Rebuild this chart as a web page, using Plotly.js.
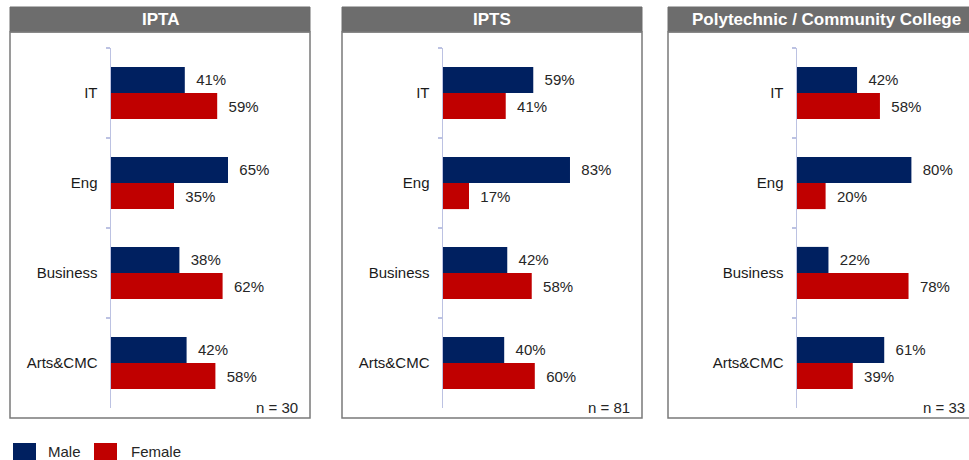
<!DOCTYPE html>
<html>
<head>
<meta charset="utf-8">
<script src="https://cdn.plot.ly/plotly-3.0.1.min.js"></script>
<style>html,body{margin:0;padding:0;background:#fff;}#chart{width:969px;height:460px;}</style>
</head>
<body>
<div id="chart"></div>
<script>
// ---- data ----
var panelTitles = ['IPTA', 'IPTS', 'Polytechnic / Community College'];
var categories = ['IT', 'Eng', 'Business', 'Arts&CMC'];
var maleIPTA = [41, 65, 38, 42];
var femaleIPTA = [59, 35, 62, 58];
var maleIPTS = [59, 83, 42, 40];
var femaleIPTS = [41, 17, 58, 60];
var malePoly = [42, 80, 22, 61];
var femalePoly = [58, 20, 78, 39];
var sampleSizes = [30, 81, 33];
var seriesNames = ['Male', 'Female'];

// ---- styling / geometry ----
var W = 969, H = 460;
var maleColor = '#002060', femaleColor = '#C00000';
var boxLeft = [10, 342, 668], boxRight = [310, 642, 985];
var nRight = [300, 632, 967];
var axisX = [111, 443, 797], axisEnd = [291, 596, 940];
var headerTop = 7, headerBottom = 32, boxBottom = 418;
var plotTop = 48, plotBottom = 408;
function px(x) { return x / W; }
function py(y) { return 1 - y / H; }

var maleSets = [maleIPTA, maleIPTS, malePoly];
var femaleSets = [femaleIPTA, femaleIPTS, femalePoly];
var FONT = 'Liberation Sans, Arial, sans-serif';

var traces = [];
var layout = {
  width: W, height: H,
  margin: {l: 0, r: 0, t: 0, b: 0},
  paper_bgcolor: '#ffffff', plot_bgcolor: 'rgba(0,0,0,0)',
  barmode: 'group', bargap: 0.42, bargroupgap: 0,
  showlegend: false,
  font: {family: FONT, size: 15, color: '#1a1a1a'},
  shapes: [], annotations: []
};

for (var i = 0; i < 3; i++) {
  var suf = i === 0 ? '' : String(i + 1);
  var sets = [maleSets[i], femaleSets[i]];
  var cols = [maleColor, femaleColor];
  for (var s = 0; s < 2; s++) {
    traces.push({
      type: 'bar', orientation: 'h',
      x: sets[s], y: categories,
      name: seriesNames[s],
      xaxis: 'x' + suf, yaxis: 'y' + suf,
      marker: {color: cols[s], line: {width: 0}},
      texttemplate: '\u00a0\u00a0%{x}%',
      textposition: 'outside',
      constraintext: 'none',
      cliponaxis: false,
      textfont: {family: FONT, size: 15, color: '#262626'},
      hoverinfo: 'skip'
    });
  }
  layout['xaxis' + suf] = {
    domain: [px(axisX[i]), px(axisEnd[i])],
    range: [0, 100], anchor: 'y' + suf,
    showgrid: false, zeroline: false, showline: false,
    showticklabels: false, ticks: '', fixedrange: true
  };
  layout['yaxis' + suf] = {
    domain: [py(plotBottom), py(plotTop)],
    anchor: 'x' + suf, type: 'category',
    categoryorder: 'array', categoryarray: categories,
    autorange: 'reversed',
    showgrid: false, zeroline: false,
    showline: true, linecolor: '#bcc2e2', linewidth: 1.5,
    ticks: 'outside', tickson: 'boundaries', ticklen: 4, tickcolor: '#bcc2e2', tickwidth: 1.5,
    ticklabelstandoff: 9,
    tickfont: {family: FONT, size: 15, color: '#1a1a1a'},
    fixedrange: true
  };
  // header box
  layout.shapes.push({
    type: 'rect', xref: 'paper', yref: 'paper', layer: 'below',
    x0: px(boxLeft[i]), x1: px(boxRight[i]), y0: py(headerBottom), y1: py(headerTop),
    fillcolor: '#6d6d6d', line: {color: '#6d6d6d', width: 1}
  });
  // body box
  layout.shapes.push({
    type: 'rect', xref: 'paper', yref: 'paper', layer: 'below',
    x0: px(boxLeft[i]), x1: px(boxRight[i]), y0: py(boxBottom), y1: py(headerBottom),
    fillcolor: 'rgba(0,0,0,0)', line: {color: '#7a7a7a', width: 1.5}
  });
  // title
  layout.annotations.push({
    xref: 'paper', yref: 'paper',
    x: px((boxLeft[i] + boxRight[i]) / 2), y: py((headerTop + headerBottom) / 2),
    xanchor: 'center', yanchor: 'middle', showarrow: false,
    text: '<b>' + panelTitles[i] + '</b>',
    font: {family: FONT, size: 17, color: '#ffffff'}
  });
  // n =
  layout.annotations.push({
    xref: 'paper', yref: 'paper',
    x: px(nRight[i]), y: py(407),
    xanchor: 'right', yanchor: 'middle', showarrow: false,
    text: 'n = ' + sampleSizes[i],
    font: {family: FONT, size: 15, color: '#262626'}
  });
}

// custom legend
var legX = [13, 94], legTextX = [46, 129], legCols = [maleColor, femaleColor];
for (var k = 0; k < 2; k++) {
  layout.shapes.push({
    type: 'rect', xref: 'paper', yref: 'paper',
    x0: px(legX[k]), x1: px(legX[k] + 23), y0: py(463), y1: py(443),
    fillcolor: legCols[k], line: {width: 0}
  });
  layout.annotations.push({
    xref: 'paper', yref: 'paper',
    x: px(legTextX[k]), y: py(451),
    xanchor: 'left', yanchor: 'middle', showarrow: false,
    text: seriesNames[k],
    font: {family: FONT, size: 15, color: '#262626'}
  });
}

Plotly.newPlot('chart', traces, layout, {displayModeBar: false, staticPlot: true});
</script>
</body>
</html>
